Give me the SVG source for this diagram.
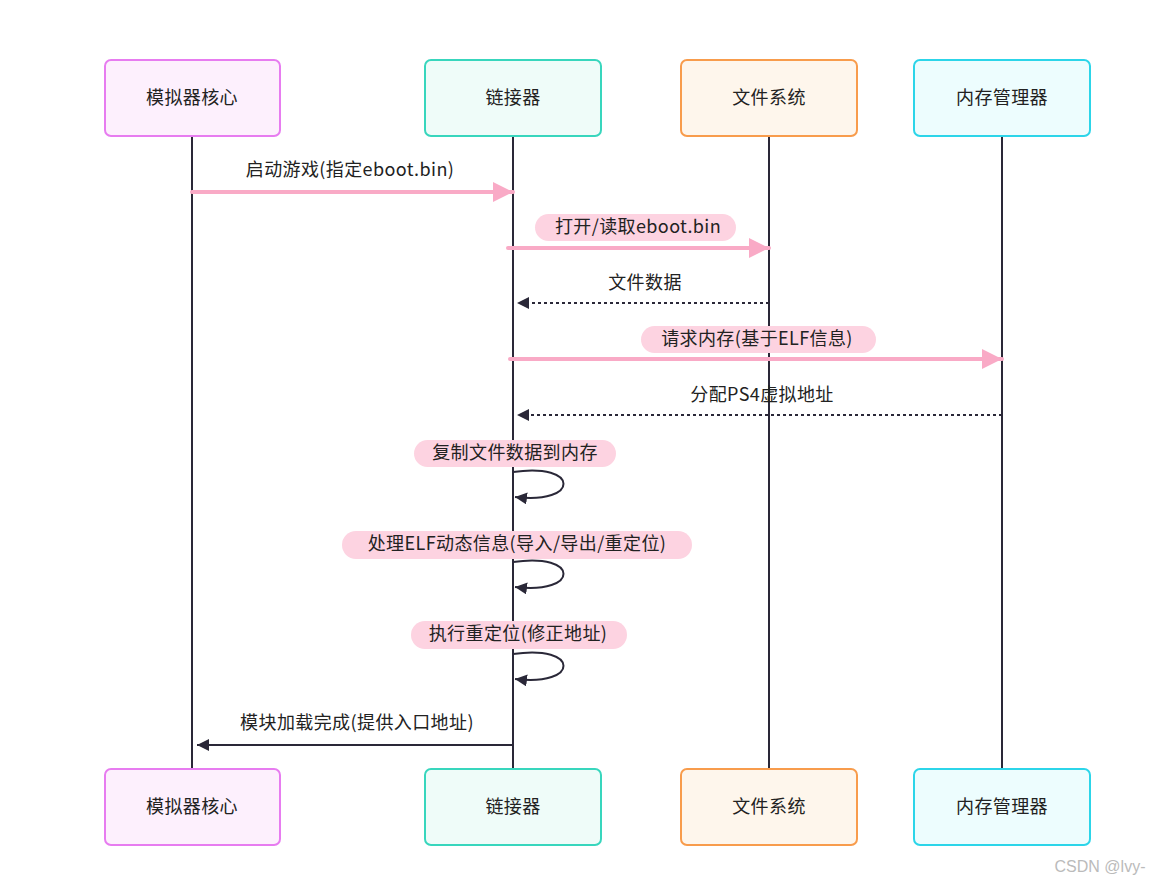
<svg xmlns="http://www.w3.org/2000/svg" width="1163" height="886" viewBox="0 0 1163 886">
<style>
text{font-family:"Noto Sans CJK SC","Noto Sans",sans-serif;font-size:18px;letter-spacing:0.4px;fill:#222;text-anchor:middle}
.box{stroke-width:2}
.life{stroke:#2a2838;stroke-width:2}
.pk{stroke:#f9aac6;stroke-width:4;fill:none;stroke-linecap:round}
.dash{stroke:#2a2838;stroke-width:2;stroke-dasharray:3,3;fill:none}
.solid{stroke:#2a2838;stroke-width:2;fill:none}
.bg{fill:#fdd3e1}
</style>
<defs>
<marker id="pk" viewBox="0 0 10 10" refX="10" refY="5" markerWidth="20" markerHeight="20" markerUnits="userSpaceOnUse" orient="auto"><path d="M0,0L10,5L0,10z" fill="#f9aac6"/></marker>
<marker id="de" viewBox="0 0 10 10" refX="10" refY="5" markerWidth="12" markerHeight="12" markerUnits="userSpaceOnUse" orient="auto"><path d="M0,0L10,5L0,10z" fill="#2a2838"/></marker>
</defs>
<rect width="1163" height="886" fill="#fff"/>
<g id="lifelines">
<line class="life" x1="192" y1="136" x2="192" y2="769"/>
<line class="life" x1="513" y1="136" x2="513" y2="769"/>
<line class="life" x1="769" y1="136" x2="769" y2="769"/>
<line class="life" x1="1002" y1="136" x2="1002" y2="769"/>
</g>
<g id="n1"><rect class="box" x="105" y="60" width="175" height="76" rx="6" fill="#fdf0fd" stroke="#e77cf0"/><text x="192" y="104">模拟器核心</text></g>
<g id="n2"><rect class="box" x="425" y="60" width="176" height="76" rx="6" fill="#effcf9" stroke="#38d6bd"/><text x="513" y="104">链接器</text></g>
<g id="n3"><rect class="box" x="681" y="60" width="176" height="76" rx="6" fill="#fef6ec" stroke="#f89c4c"/><text x="769" y="104">文件系统</text></g>
<g id="n4"><rect class="box" x="914" y="60" width="176" height="76" rx="6" fill="#edfdfe" stroke="#2cd5e9"/><text x="1002" y="104">内存管理器</text></g>
<g id="n1b"><rect class="box" x="105" y="769" width="175" height="76" rx="6" fill="#fdf0fd" stroke="#e77cf0"/><text x="192" y="813">模拟器核心</text></g>
<g id="n2b"><rect class="box" x="425" y="769" width="176" height="76" rx="6" fill="#effcf9" stroke="#38d6bd"/><text x="513" y="813">链接器</text></g>
<g id="n3b"><rect class="box" x="681" y="769" width="176" height="76" rx="6" fill="#fef6ec" stroke="#f89c4c"/><text x="769" y="813">文件系统</text></g>
<g id="n4b"><rect class="box" x="914" y="769" width="176" height="76" rx="6" fill="#edfdfe" stroke="#2cd5e9"/><text x="1002" y="813">内存管理器</text></g>
<g id="connectors">
<line class="pk" x1="192" y1="192" x2="513" y2="192" marker-end="url(#pk)"/>
<text x="350" y="176">启动游戏(指定eboot.bin)</text>
<rect class="bg" x="535" y="214" width="201" height="27" rx="13.5"/>
<line class="pk" x1="508" y1="248" x2="769" y2="248" marker-end="url(#pk)"/>
<text x="638" y="233">打开/读取eboot.bin</text>
<line class="dash" x1="769" y1="303" x2="517" y2="303" marker-end="url(#de)"/>
<text x="645" y="289">文件数据</text>
<rect class="bg" x="641" y="326" width="235" height="27" rx="13.5"/>
<line class="pk" x1="510" y1="359" x2="1002" y2="359" marker-end="url(#pk)"/>
<text x="757" y="345">请求内存(基于ELF信息)</text>
<line class="dash" x1="1002" y1="415" x2="517" y2="415" marker-end="url(#de)"/>
<text x="762" y="401">分配PS4虚拟地址</text>
<rect class="bg" x="414" y="440" width="202" height="27" rx="13.5"/>
<text x="515" y="459">复制文件数据到内存</text>
<path class="solid" d="M513,472C580,462 580,505 515,497" marker-end="url(#de)"/>
<rect class="bg" x="342" y="531" width="350" height="28" rx="14"/>
<text x="517" y="550">处理ELF动态信息(导入/导出/重定位)</text>
<path class="solid" d="M513,562C580,552 580,595 515,587" marker-end="url(#de)"/>
<rect class="bg" x="411" y="621" width="216" height="28" rx="14"/>
<text x="518" y="640">执行重定位(修正地址)</text>
<path class="solid" d="M513,654C580,644 580,687 515,679" marker-end="url(#de)"/>
<line class="solid" x1="513" y1="745" x2="197" y2="745" marker-end="url(#de)"/>
<text x="357" y="729">模块加载完成(提供入口地址)</text>
</g>
<text x="1100" y="872" style="font-family:'Liberation Sans',sans-serif;font-size:16px;fill:#bbb;letter-spacing:0">CSDN @lvy-</text>
</svg>
